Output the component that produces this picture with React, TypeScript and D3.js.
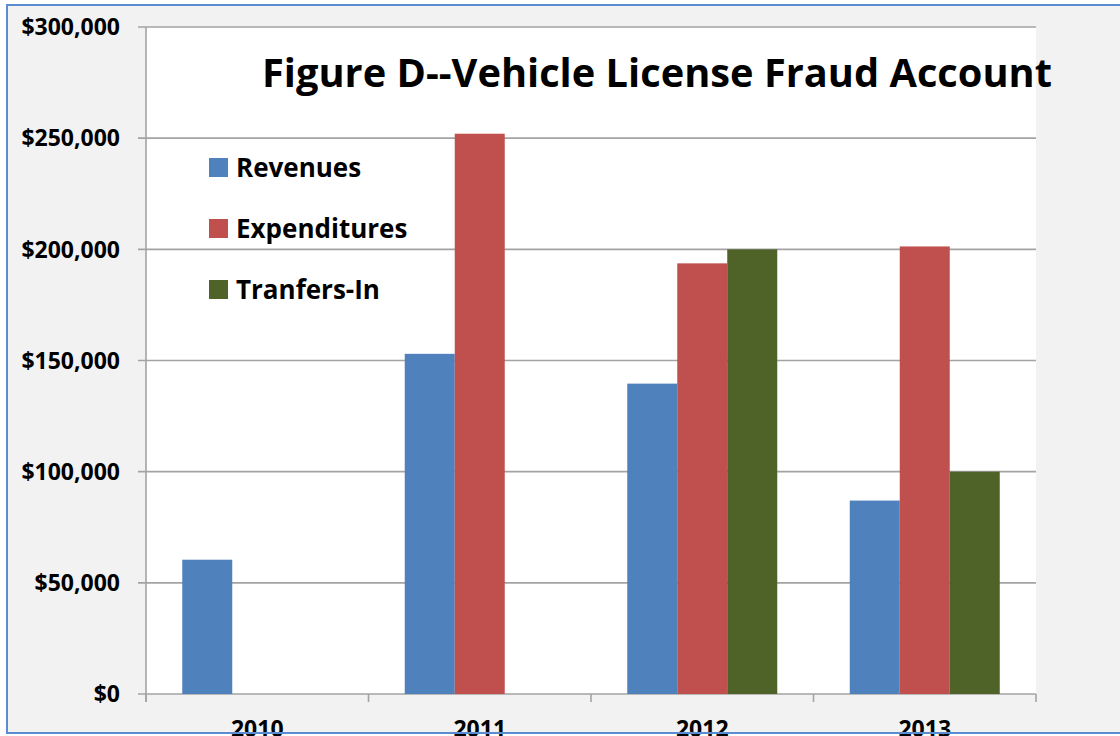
import React from "react";
import * as d3 from "d3";

const years = ["2010", "2011", "2012", "2013"];
const seriesNames = ["Revenues", "Expenditures", "Tranfers-In"];
const revenues = [60400, 153000, 139600, 87000];
const expenditures = [null, 252000, 193700, 201300];
const transfersIn = [null, null, 200000, 100000];
const seriesColors = ["#4f81bd", "#c0504d", "#4f6228"];
const yTicks = [0, 50000, 100000, 150000, 200000, 250000, 300000];
const titleText = "Figure D--Vehicle License Fraud Account";

const seriesValues: (number | null)[][] = [revenues, expenditures, transfersIn];

export default function App() {
  const W = 1120;
  const H = 736;
  const left = 146;
  const right = 1036;
  const top = 27;
  const bottom = 694;

  const x0 = d3.scaleBand<string>().domain(years).range([left, right]).padding(0);
  const x1 = d3
    .scaleBand<string>()
    .domain(seriesNames)
    .range([0, x0.bandwidth()])
    .paddingInner(0)
    .paddingOuter(0.725);
  const y = d3.scaleLinear().domain([0, 300000]).range([bottom, top]);
  const fmt = (v: number) => "$" + d3.format(",")(v);
  const font = "'Open Sans', 'DejaVu Sans', sans-serif";
  const gridColor = "#a3a3a3";

  const boundaries = [...years.map((yv) => x0(yv) as number), right];

  return (
    <svg
      width={W}
      height={H}
      style={{ position: "fixed", left: 0, top: 0, display: "block" }}
    >
      <rect x={0} y={0} width={W} height={H} fill="#ffffff" />
      <rect x={7} y={5} width={W} height={728} fill="#f2f2f2" stroke="#5b8bd0" strokeWidth={2} />
      <rect x={left} y={top} width={right - left} height={bottom - top} fill="#ffffff" />

      {/* gridlines */}
      {yTicks.map((t) => (
        <line
          key={"g" + t}
          x1={left - 8}
          x2={right}
          y1={y(t)}
          y2={y(t)}
          stroke={gridColor}
          strokeWidth={1.6}
        />
      ))}
      {/* y axis line */}
      <line x1={left} x2={left} y1={top} y2={bottom + 8} stroke={gridColor} strokeWidth={1.6} />
      {/* x ticks */}
      {boundaries.map((b, i) => (
        <line key={"xt" + i} x1={b} x2={b} y1={bottom} y2={bottom + 8} stroke={gridColor} strokeWidth={1.6} />
      ))}

      {/* bars */}
      {seriesValues.map((vals, si) =>
        vals.map((v, ci) =>
          v == null ? null : (
            <rect
              key={"b" + si + "-" + ci}
              x={(x0(years[ci]) as number) + (x1(seriesNames[si]) as number)}
              y={y(v)}
              width={x1.bandwidth()}
              height={y(0) - y(v)}
              fill={seriesColors[si]}
            />
          )
        )
      )}

      {/* y labels */}
      {yTicks.map((t) => (
        <text
          key={"yl" + t}
          x={120}
          y={y(t)}
          dy="0.36em"
          textAnchor="end"
          fontFamily={font}
          fontWeight="bold"
          fontSize={23}
          fill="#000"
        >
          {fmt(t)}
        </text>
      ))}

      {/* x labels */}
      {years.map((yr) => (
        <text
          key={"xl" + yr}
          x={(x0(yr) as number) + x0.bandwidth() / 2}
          y={737}
          textAnchor="middle"
          fontFamily={font}
          fontWeight="bold"
          fontSize={23}
          fill="#000"
        >
          {yr}
        </text>
      ))}
      <line x1={7} x2={W} y1={733} y2={733} stroke="#5b8bd0" strokeWidth={2} />

      {/* title */}
      <text
        x={262}
        y={87}
        fontFamily={font}
        fontWeight="bold"
        fontSize={40}
        textLength={790}
        lengthAdjust="spacingAndGlyphs"
        fill="#000"
      >
        {titleText}
      </text>

      {/* legend */}
      {seriesNames.map((s, i) => (
        <g key={"lg" + s} transform={`translate(209, ${158 + i * 61})`}>
          <rect x={0} y={0} width={19} height={19} fill={seriesColors[i]} />
          <text x={27} y={18.5} fontFamily={font} fontWeight="bold" fontSize={26} fill="#000">
            {s}
          </text>
        </g>
      ))}
    </svg>
  );
}
